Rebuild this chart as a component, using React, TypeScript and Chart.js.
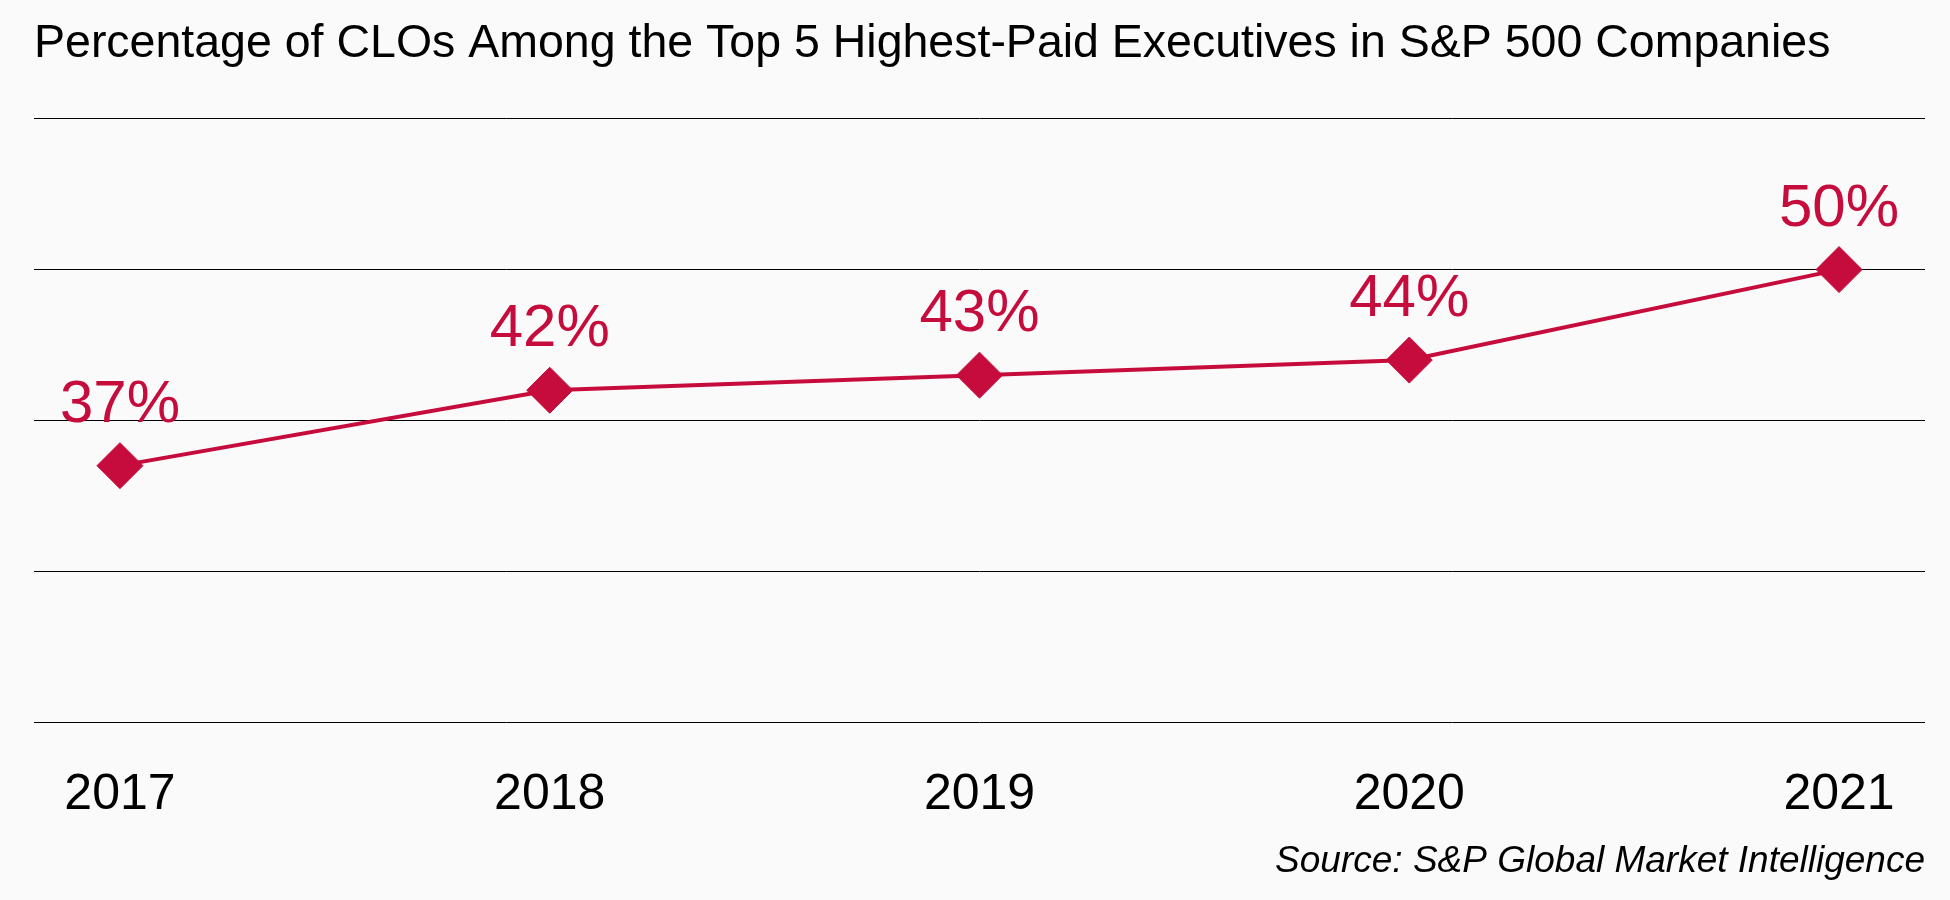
import { useRef, useEffect } from "react";
import { Chart, registerables } from "chart.js";

Chart.register(...registerables);

const years = ["2017", "2018", "2019", "2020", "2021"];
const cloShare = [37, 42, 43, 44, 50];
const yTicks = [20, 30, 40, 50, 60];

const TITLE = "Percentage of CLOs Among the Top 5 Highest-Paid Executives in S&P 500 Companies";
const SOURCE = "Source: S&P Global Market Intelligence";

const FONT = "'Liberation Sans', Arial, Helvetica, sans-serif";
const CRIMSON = "#C60C3C";

// draws the "37%" style labels above each marker
const valueLabels = {
  id: "valueLabels",
  afterDatasetsDraw(chart: Chart) {
    const { ctx } = chart;
    const meta = chart.getDatasetMeta(0);
    ctx.save();
    ctx.font = `60px ${FONT}`;
    ctx.fillStyle = CRIMSON;
    ctx.textAlign = "center";
    ctx.textBaseline = "alphabetic";
    meta.data.forEach((pt, i) => {
      ctx.fillText(`${cloShare[i]}%`, pt.x, pt.y - 44);
    });
    ctx.restore();
  },
};

// source note in the bottom right corner
const sourceNote = {
  id: "sourceNote",
  afterDraw(chart: Chart) {
    const { ctx, chartArea } = chart;
    ctx.save();
    ctx.font = `italic 37px ${FONT}`;
    ctx.fillStyle = "#000";
    ctx.textAlign = "right";
    ctx.textBaseline = "middle";
    ctx.fillText(SOURCE, chartArea.right, 862);
    ctx.restore();
  },
};

const App = () => {
  const chartRef = useRef<HTMLCanvasElement | null>(null);
  const chartInstance = useRef<Chart | null>(null);

  useEffect(() => {
    if (!chartRef.current) return;
    const ctx = chartRef.current.getContext("2d");
    if (!ctx) return;

    if (chartInstance.current) {
      chartInstance.current.destroy();
    }

    chartInstance.current = new Chart(ctx, {
      type: "line",
      data: {
        datasets: [
          {
            label: "CLOs among top 5",
            data: cloShare.map((v, i) => ({ x: i, y: v })),
            borderColor: CRIMSON,
            backgroundColor: CRIMSON,
            borderWidth: 4,
            pointStyle: "rectRot",
            pointRadius: 23,
            pointBorderWidth: 1,
            pointBackgroundColor: CRIMSON,
            pointBorderColor: CRIMSON,
            tension: 0,
            fill: false,
          },
        ],
      },
      options: {
        animation: false,
        responsive: true,
        maintainAspectRatio: false,
        layout: {
          padding: { left: 34, right: 25, top: 16, bottom: 32 },
        },
        plugins: {
          legend: { display: false },
          tooltip: { enabled: false },
          title: {
            display: true,
            text: TITLE,
            align: "start",
            color: "#000",
            font: { family: FONT, size: 46.5, weight: "normal" },
            padding: { top: 0, bottom: 47 },
          },
        },
        scales: {
          x: {
            type: "linear",
            min: -0.2,
            max: 4.2,
            grid: { display: false, drawTicks: false },
            border: { display: false },
            ticks: {
              stepSize: 1,
              includeBounds: false,
              padding: 43,
              color: "#000",
              font: { family: FONT, size: 50 },
              callback: (value) => {
                const v = value as number;
                return Number.isInteger(v) ? years[v] ?? "" : "";
              },
            },
          },
          y: {
            min: yTicks[0],
            max: yTicks[yTicks.length - 1],
            grid: { color: "#000", lineWidth: 1, drawTicks: false },
            border: { display: false },
            ticks: { stepSize: 10, display: false },
          },
        },
      },
      plugins: [valueLabels, sourceNote],
    });

    return () => {
      if (chartInstance.current) {
        chartInstance.current.destroy();
        chartInstance.current = null;
      }
    };
  }, []);

  return (
    <div
      style={{
        position: "fixed",
        top: 0,
        left: 0,
        width: 1950,
        height: 900,
        background: "#FAFAFA",
      }}
    >
      <canvas ref={chartRef} />
    </div>
  );
};

export default App;
